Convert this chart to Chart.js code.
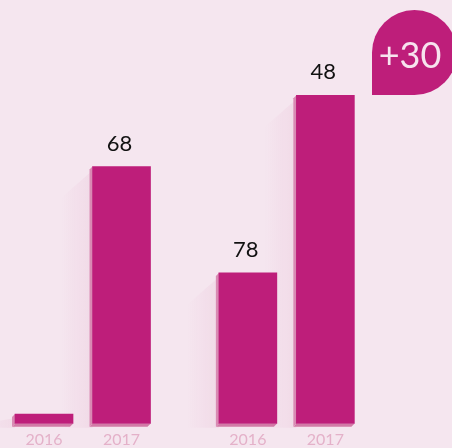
<!DOCTYPE html>
<html>
<head>
<meta charset="utf-8">
<script src="https://cdn.jsdelivr.net/npm/chart.js@4"></script>
<style>
  html, body { margin: 0; padding: 0; background: #f5e6ef; }
  #wrap { width: 452px; height: 448px; }
</style>
</head>
<body>
<div id="wrap"><canvas id="chart1" width="452" height="448"></canvas></div>
<script>
// two groups of bars, 2016 vs 2017
const years = ['2016', '2017', '2016', '2017'];
const slots = [1, 2, 3.63, 4.63];
const heights = [2.3, 60.7, 35.6, 77.5];
const valueLabels = ['', '68', '78', '48'];
const badgeText = '+30';

const barColor = '#be1e7a';

// fake 3d edge + soft shadow behind each bar
const extrude = {
  id: 'extrude',
  beforeDatasetsDraw(chart) {
    const ctx = chart.ctx;
    const bars = chart.getDatasetMeta(0).data;
    ctx.save();
    bars.forEach(b => {
      const left = b.x - b.width / 2, right = b.x + b.width / 2;
      const top = b.y, base = b.base;
      // shadow
      const g = ctx.createLinearGradient(left, 0, left - 32, 0);
      g.addColorStop(0, 'rgba(190,30,122,0.06)');
      g.addColorStop(1, 'rgba(190,30,122,0)');
      ctx.fillStyle = g;
      ctx.beginPath();
      ctx.moveTo(left, top + 4);
      ctx.lineTo(left - 32, Math.min(base, top + 32));
      ctx.lineTo(left - 32, base + 4);
      ctx.lineTo(left, base + 4);
      ctx.closePath();
      ctx.fill();
      // bottom face
      ctx.fillStyle = '#d27aa6';
      ctx.beginPath();
      ctx.moveTo(left, base);
      ctx.lineTo(right, base);
      ctx.lineTo(right - 3, base + 3);
      ctx.lineTo(left - 3, base + 3);
      ctx.closePath();
      ctx.fill();
      // left face
      ctx.fillStyle = '#d98ab3';
      ctx.beginPath();
      ctx.moveTo(left, top);
      ctx.lineTo(left, base);
      ctx.lineTo(left - 3, base + 3);
      ctx.lineTo(left - 3, top + 3);
      ctx.closePath();
      ctx.fill();
    });
    ctx.restore();
  },
  afterDatasetsDraw(chart) {
    const ctx = chart.ctx;
    const bars = chart.getDatasetMeta(0).data;
    ctx.save();
    ctx.fillStyle = '#111';
    ctx.font = '22px Lato';
    ctx.textAlign = 'center';
    ctx.textBaseline = 'middle';
    bars.forEach((b, i) => {
      if (valueLabels[i]) ctx.fillText(valueLabels[i], b.x - 2, b.y - 23);
    });
    ctx.restore();
  },
  afterDraw(chart) {
    const ctx = chart.ctx;
    const cx = 414.5, cy = 52.5, r = 42.5;
    ctx.save();
    ctx.fillStyle = barColor;
    ctx.beginPath();
    ctx.moveTo(cx - r, cy + r);
    ctx.lineTo(cx - r, cy);
    ctx.arc(cx, cy, r, Math.PI, Math.PI / 2);
    ctx.closePath();
    ctx.fill();
    ctx.fillStyle = '#f7e3ee';
    ctx.font = '36px Lato';
    ctx.textAlign = 'center';
    ctx.textBaseline = 'middle';
    ctx.fillText(badgeText, 410, 56);
    ctx.restore();
  }
};

new Chart('chart1', {
  type: 'bar',
  data: {
    datasets: [{
      data: slots.map((s, i) => ({ x: s, y: heights[i] })),
      backgroundColor: barColor,
      barThickness: 58,
      borderWidth: 0
    }]
  },
  options: {
    responsive: false,
    animation: false,
    layout: { padding: { top: 0, left: 0, right: 0, bottom: -7 } },
    plugins: { legend: { display: false }, tooltip: { enabled: false } },
    scales: {
      x: {
        type: 'linear',
        offset: false,
        min: 0.432,
        max: 6.264,
        grid: { display: false, drawTicks: false },
        border: { display: false },
        afterBuildTicks: scale => { scale.ticks = slots.map(v => ({ value: v })); },
        ticks: {
          autoSkip: false,
          maxRotation: 0,
          padding: 6,
          color: '#e4b1c9',
          font: { family: 'Lato', size: 16 },
          callback: (v, i) => years[i]
        }
      },
      y: {
        display: false,
        min: 0,
        max: 100
      }
    }
  },
  plugins: [extrude]
});
</script>
</body>
</html>
